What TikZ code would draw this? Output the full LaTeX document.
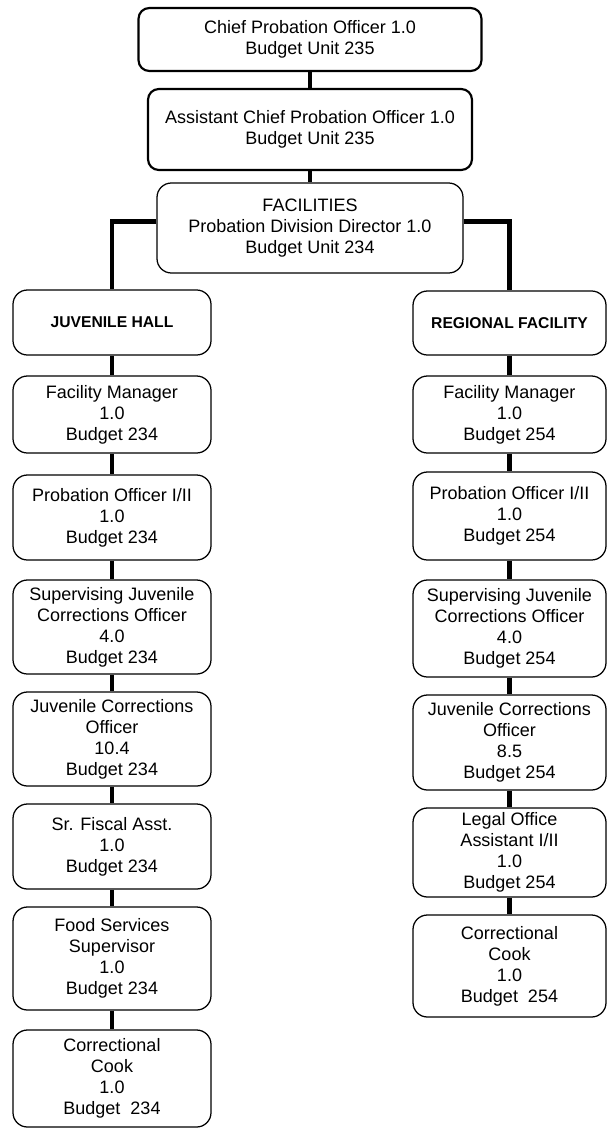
\documentclass[tikz,border=0pt]{standalone}
\usepackage{fontspec}
\setmainfont{Liberation Sans}
\usepackage{tikz}

\newcommand{\unitpx}{0.5556pt}

\tikzset{
  post/.style={draw, fill=white, rounded corners=8pt, align=center, inner sep=0pt,
    line width=0.7pt, font=\fontsize{10}{11.7}\selectfont},
  chief/.style={post, line width=1.2pt, rounded corners=6pt},
  unit/.style={post, font=\fontsize{8.7}{10}\selectfont\bfseries},
  link/.style={line width=2.5pt},
}

\begin{document}
\begin{tikzpicture}[x=\unitpx,y=-\unitpx]
\useasboundingbox (0,0) rectangle (606,1129);

% department head
\node[chief, minimum width=343*\unitpx, minimum height=63*\unitpx] (cpo) at (310,39.5) {Chief Probation Officer 1.0\\Budget Unit 235};
\node[chief, minimum width=324*\unitpx, minimum height=81*\unitpx] (acpo) at (310,129.5) {Assistant Chief Probation Officer 1.0\\Budget Unit 235};
\node[post, minimum width=306*\unitpx, minimum height=90*\unitpx] (fac) at (310,228) {FACILITIES\\Probation Division Director 1.0\\Budget Unit 234};

% juvenile hall
\node[unit, minimum width=198*\unitpx, minimum height=65*\unitpx] (jh) at (112,322.5) {JUVENILE HALL};
\node[post, minimum width=198*\unitpx, minimum height=77*\unitpx] (jfm) at (112,414.5) {Facility Manager\\1.0\\Budget 234};
\node[post, minimum width=198*\unitpx, minimum height=85*\unitpx] (jpo) at (112,517.5) {Probation Officer I/II\\1.0\\Budget 234};
\node[post, minimum width=198*\unitpx, minimum height=94*\unitpx] (jsup) at (112,627) {Supervising Juvenile\\Corrections Officer\\4.0\\Budget 234};
\node[post, minimum width=198*\unitpx, minimum height=94*\unitpx] (jjco) at (112,739) {Juvenile Corrections\\Officer\\10.4\\Budget 234};
\node[post, minimum width=198*\unitpx, minimum height=85*\unitpx] (jfis) at (112,846.5) {Sr. Fiscal Asst.\\1.0\\Budget 234};
\node[post, minimum width=198*\unitpx, minimum height=103*\unitpx] (jfood) at (112,958.5) {Food Services\\Supervisor\\1.0\\Budget 234};
\node[post, minimum width=198*\unitpx, minimum height=97*\unitpx] (jcook) at (112,1078.5) {Correctional\\Cook\\1.0\\Budget\ \ 234};

% regional facility
\node[unit, minimum width=193*\unitpx, minimum height=64*\unitpx] (rf) at (509.5,323) {REGIONAL FACILITY};
\node[post, minimum width=193*\unitpx, minimum height=77*\unitpx] (rfm) at (509.5,414.5) {Facility Manager\\1.0\\Budget 254};
\node[post, minimum width=193*\unitpx, minimum height=88*\unitpx] (rpo) at (509.5,516) {Probation Officer I/II\\1.0\\Budget 254};
\node[post, minimum width=193*\unitpx, minimum height=97*\unitpx] (rsup) at (509.5,628.5) {Supervising Juvenile\\Corrections Officer\\4.0\\Budget 254};
\node[post, minimum width=193*\unitpx, minimum height=95*\unitpx] (rjco) at (509.5,742.5) {Juvenile Corrections\\Officer\\8.5\\Budget 254};
\node[post, minimum width=193*\unitpx, minimum height=89*\unitpx] (rlo) at (509.5,852.5) {Legal Office\\Assistant I/II\\1.0\\Budget 254};
\node[post, minimum width=193*\unitpx, minimum height=102*\unitpx] (rcook) at (509.5,966) {Correctional\\Cook\\1.0\\Budget\ \ 254};

% reporting lines
\draw[link] (cpo) -- (acpo);
\draw[link] (acpo) -- (fac);
\draw[link] ([yshift=3.5pt]fac.west) -| (jh.north);
\draw[link] ([yshift=3.5pt]fac.east) -| (rf.north);

\foreach \a/\b in {jh/jfm, jfm/jpo, jpo/jsup, jsup/jjco, jjco/jfis, jfis/jfood, jfood/jcook}
  \draw[link] (\a) -- (\b);
\foreach \a/\b in {rf/rfm, rfm/rpo, rpo/rsup, rsup/rjco, rjco/rlo, rlo/rcook}
  \draw[link] (\a) -- (\b);

\end{tikzpicture}
\end{document}
